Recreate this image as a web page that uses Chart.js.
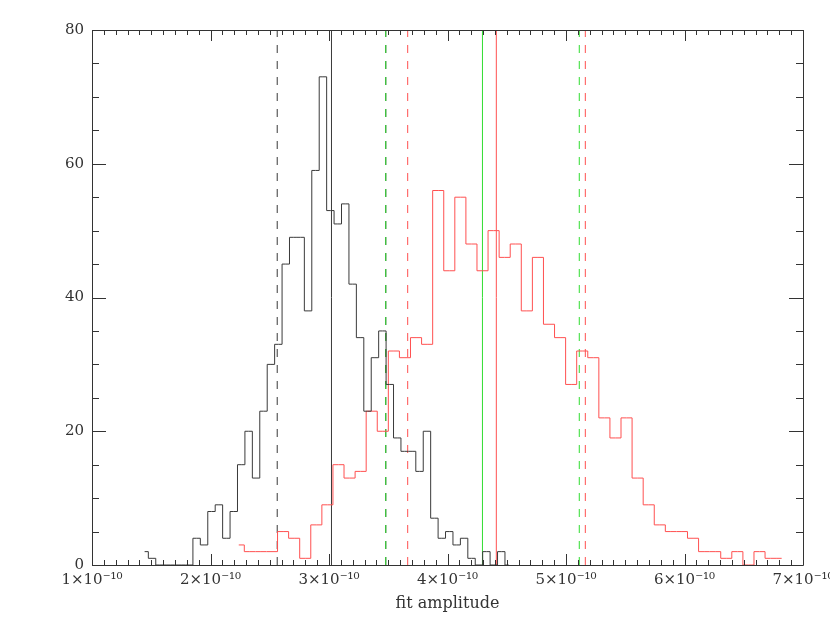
<!DOCTYPE html>
<html>
<head>
<meta charset="utf-8">
<script src="https://cdn.jsdelivr.net/npm/chart.js@4/dist/chart.umd.min.js"></script>
<style>
  body { margin: 0; background: #fff; }
</style>
</head>
<body>
<canvas id="grafico" width="830" height="624"></canvas>
<script>
// amplitudes are in units of 1e-10
const blackStart = 1.444;   // centre of first black bin
const blackWidth = 0.0627;
const blackCounts = [2, 1, 0, 0, 0, 0, 0, 4, 3, 8, 9, 4, 8, 15, 20, 13, 23, 30, 33, 45,
  49, 49, 38, 59, 73, 53, 51, 54, 42, 34, 23, 31, 35, 27, 19, 17, 17, 14, 20, 7,
  4, 5, 3, 4, 1, 0, 2, 0, 2, 0];

const redStart = 2.2385;
const redWidth = 0.0935;
const redCounts = [3, 2, 2, 2, 5, 4, 1, 6, 9, 15, 13, 14, 23, 20, 32, 31, 34, 33, 56, 44,
  55, 48, 44, 50, 46, 48, 38, 46, 36, 34, 27, 32, 31, 22, 19, 22, 13, 9, 6, 5,
  5, 4, 2, 2, 1, 2, 0, 2, 1, 1];

// lower / central / upper markers
const blackLines = [2.563, 3.021, 3.479];
const greenLines = [3.479, 4.295, 5.112];
const redLines = [3.664, 4.412, 5.163];

const xTicks = [1, 2, 3, 4, 5, 6, 7];
const yTicks = [0, 20, 40, 60, 80];

const BLACK = '#3a3a3a';
const RED = '#ff5050';
const GREEN = '#30dd30';

function histo(start, width, counts) {
  return counts.map((c, i) => ({ x: start + i * width, y: c }));
}

function vline(x, color, dashed) {
  return {
    data: [{ x: x, y: 0 }, { x: x, y: 80 }],
    borderColor: color,
    borderWidth: 1,
    borderDash: dashed ? [8, 8] : [],
    pointRadius: 0
  };
}

const lineSets = [];
[[greenLines, GREEN], [blackLines, BLACK], [redLines, RED]].forEach(([xs, col]) => {
  xs.forEach((x, i) => lineSets.push(vline(x, col, i !== 1)));
});

// IDL style box with inward ticks
const caixa = {
  id: 'caixa',
  afterDatasetsDraw(chart) {
    const { ctx, chartArea: a, scales: { x, y } } = chart;
    ctx.save();
    ctx.strokeStyle = '#333';
    ctx.lineWidth = 1;
    ctx.beginPath();
    ctx.rect(Math.round(a.left) + 0.5, Math.round(a.top) + 0.5,
      Math.round(a.right - a.left), Math.round(a.bottom - a.top));
    for (let v = 0; v <= 80; v += 5) {
      const py = Math.round(y.getPixelForValue(v)) + 0.5;
      const len = v % 20 === 0 ? 14 : 7;
      ctx.moveTo(a.left, py); ctx.lineTo(a.left + len, py);
      ctx.moveTo(a.right, py); ctx.lineTo(a.right - len, py);
    }
    for (let k = 10; k <= 70; k++) {
      const px = Math.round(x.getPixelForValue(k / 10)) + 0.5;
      const len = k % 10 === 0 ? 11 : 5;
      ctx.moveTo(px, a.bottom); ctx.lineTo(px, a.bottom - len);
      ctx.moveTo(px, a.top); ctx.lineTo(px, a.top + len);
    }
    ctx.stroke();
    ctx.restore();
  }
};

Chart.defaults.font.family = "'DejaVu Serif', serif";
Chart.defaults.color = '#333';

new Chart(document.getElementById('grafico'), {
  type: 'line',
  data: {
    datasets: [
      {
        data: histo(blackStart, blackWidth, blackCounts),
        borderColor: BLACK, borderWidth: 1, stepped: 'middle', pointRadius: 0
      },
      {
        data: histo(redStart, redWidth, redCounts),
        borderColor: RED, borderWidth: 1, stepped: 'middle', pointRadius: 0
      },
      ...lineSets
    ]
  },
  options: {
    responsive: false,
    animation: false,
    layout: { padding: { top: 30, right: 27, left: 0, bottom: 0 } },
    plugins: {
      legend: { display: false },
      tooltip: { enabled: false }
    },
    scales: {
      x: {
        type: 'linear',
        min: 1, max: 7,
        afterBuildTicks: s => { s.ticks = xTicks.map(v => ({ value: v })); },
        afterFit: s => { s.height = 59; s.paddingLeft = 0; s.paddingRight = 0; },
        grid: { display: false, drawTicks: false },
        border: { display: false },
        ticks: {
          padding: 6,
          maxRotation: 0,
          font: { size: 15 },
          callback: v => v + '×10⁻¹⁰'
        },
        title: {
          display: true,
          text: 'fit amplitude',
          font: { size: 16 },
          padding: { top: 2, bottom: 11 }
        }
      },
      y: {
        min: 0, max: 80,
        afterBuildTicks: s => { s.ticks = yTicks.map(v => ({ value: v })); },
        afterFit: s => { s.width = 92; s.paddingTop = 0; s.paddingBottom = 0; },
        grid: { display: false, drawTicks: false },
        border: { display: false },
        ticks: { padding: 8, font: { size: 15 } }
      }
    }
  },
  plugins: [caixa]
});
</script>
</body>
</html>
